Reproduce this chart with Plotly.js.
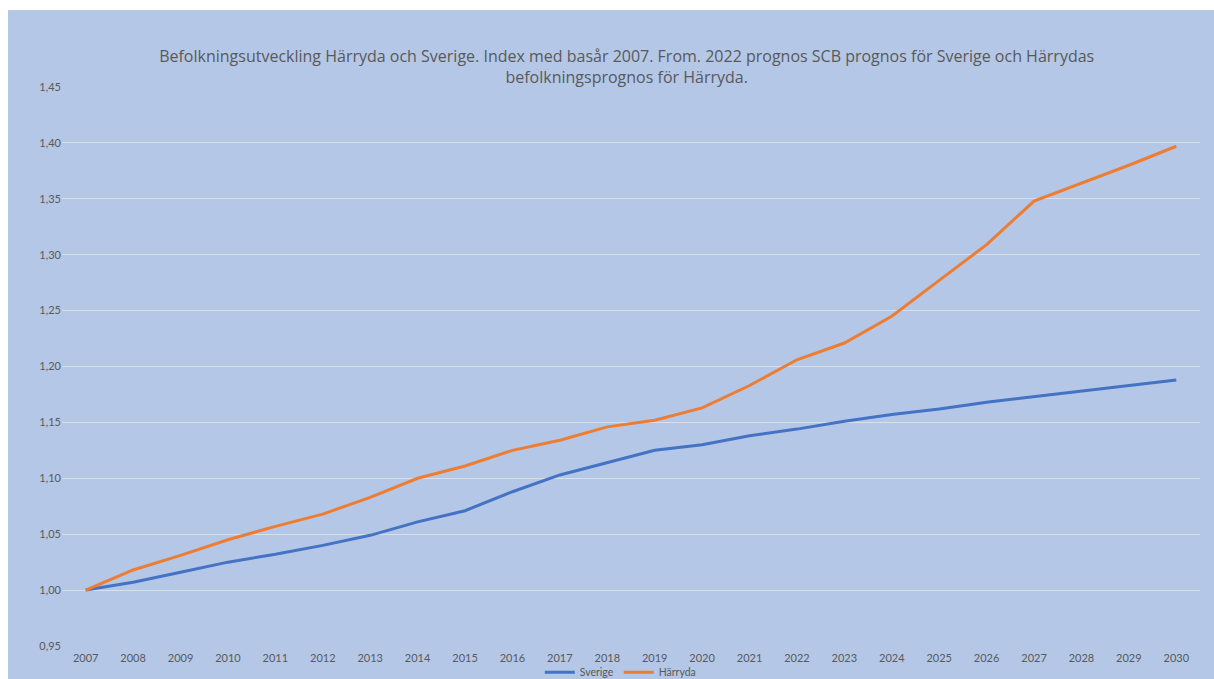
<!DOCTYPE html>
<html>
<head>
<meta charset="utf-8">
<script src="https://cdn.plot.ly/plotly-3.0.1.min.js"></script>
<style>
html, body { margin:0; padding:0; background:#ffffff; overflow:hidden; }
#chart { position:absolute; left:8px; top:10px; width:1206px; height:690px; }
</style>
</head>
<body>
<div id="chart"></div>
<script>
const years = ["2007","2008","2009","2010","2011","2012","2013","2014","2015","2016","2017","2018","2019","2020","2021","2022","2023","2024","2025","2026","2027","2028","2029","2030"];
const sverige = [1.000,1.007,1.016,1.025,1.032,1.040,1.049,1.061,1.071,1.088,1.103,1.114,1.125,1.130,1.138,1.144,1.151,1.157,1.162,1.168,1.173,1.178,1.183,1.188];
const harryda = [1.000,1.018,1.031,1.045,1.057,1.068,1.083,1.100,1.111,1.125,1.134,1.146,1.152,1.163,1.183,1.206,1.221,1.245,1.277,1.309,1.348,1.364,1.380,1.397];
const yTicks = [0.95,1.00,1.05,1.10,1.15,1.20,1.25,1.30,1.35,1.40,1.45];
const titleText = "Befolkningsutveckling Härryda och Sverige. Index med basår 2007. From. 2022 prognos SCB prognos för Sverige och Härrydas<br>befolkningsprognos för Härryda.";

const font = "Lato, 'Open Sans', sans-serif";
const traces = [
  {x: years, y: sverige, name: "Sverige", type: "scatter", mode: "lines",
   line: {color: "#4472C4", width: 3}},
  {x: years, y: harryda, name: "Härryda", type: "scatter", mode: "lines",
   line: {color: "#ED7D31", width: 3}}
];
const layout = {
  width: 1206, height: 690,
  paper_bgcolor: "#B4C7E7", plot_bgcolor: "#B4C7E7",
  separators: ", ",
  margin: {l: 54, r: 14, t: 77, b: 54, autoexpand: false},
  font: {family: font, color: "#595959", size: 11},
  title: {text: titleText, x: 0.513, xref: "container", xanchor: "center",
          y: (690-52)/690, yref: "container", yanchor: "middle",
          font: {family: "'Open Sans', sans-serif", size: 16, color: "#595959"}},
  xaxis: {type: "category", range: [-0.5, 23.5], showgrid: false, zeroline: false,
          showline: false, ticks: "", ticklabelstandoff: 4, tickfont: {size: 11, color: "#595959"}},
  yaxis: {range: [0.95, 1.45], tickvals: yTicks, tickformat: ".2f",
          showgrid: true, gridcolor: "#D9DEE8", gridwidth: 1, zeroline: false,
          showline: false, ticks: "", ticklen: 0, tickfont: {size: 11, color: "#595959"}},
  showlegend: true,
  legend: {orientation: "h", x: 0.491, xanchor: "center", y: -0.021, yanchor: "top",
           bgcolor: "rgba(0,0,0,0)", font: {size: 10.5, color: "#595959"}}
};
Plotly.newPlot("chart", traces, layout, {displayModeBar: false, staticPlot: true});
</script>
</body>
</html>
